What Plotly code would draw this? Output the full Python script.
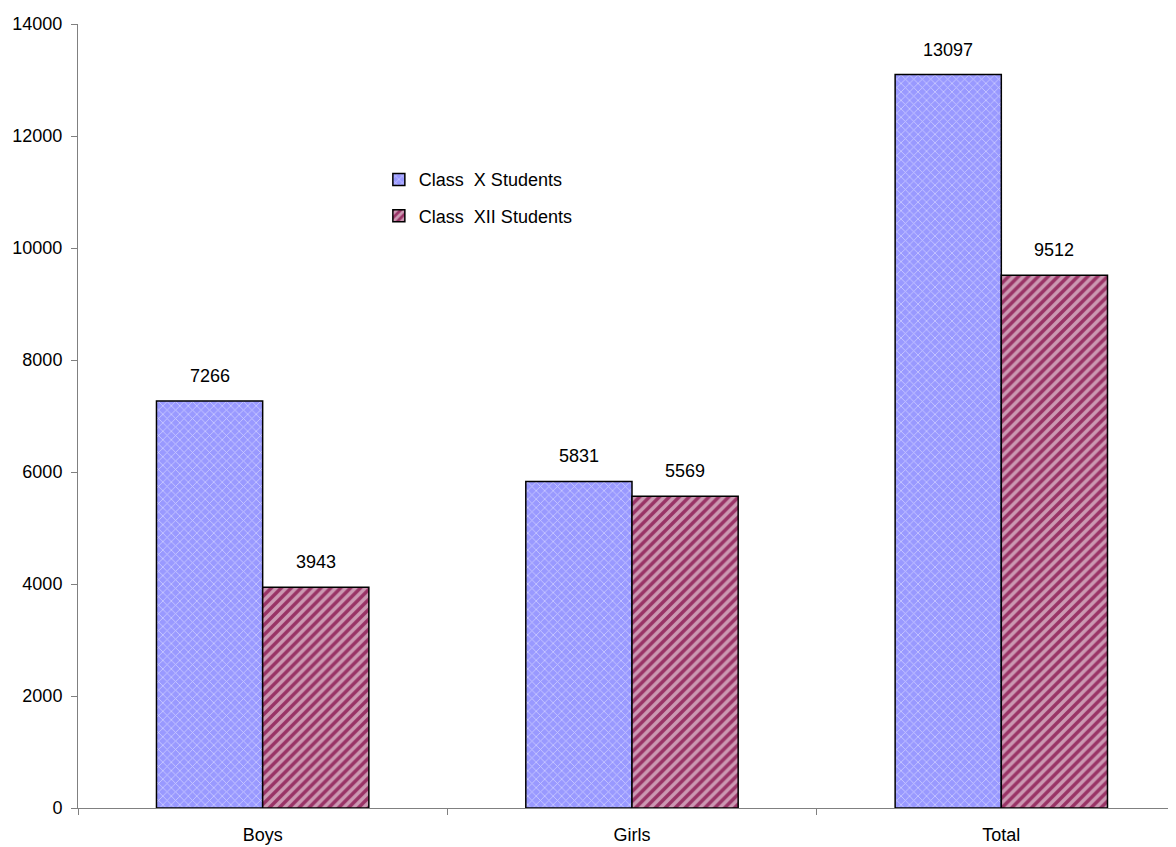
import plotly.graph_objects as go

categories = ["Boys", "Girls", "Total"]
class_x = [7266, 5831, 13097]
class_xii = [3943, 5569, 9512]
series_names = ["Class  X Students", "Class  XII Students"]
y_ticks = [0, 2000, 4000, 6000, 8000, 10000, 12000, 14000]
y_tick_text = [str(v) for v in y_ticks]

font = dict(family="Liberation Sans, Arial, sans-serif", size=18, color="black")
BARGAP = 0.425

fig = go.Figure()
fig.add_trace(go.Bar(
    x=categories, y=class_x, name=series_names[0], legendgroup="a",
    marker=dict(color="#9999FF", line=dict(color="black", width=1.5),
                pattern=dict(shape="x", fgcolor="white", size=6, solidity=0.25)),
))
fig.add_trace(go.Bar(
    x=categories, y=class_xii, name=series_names[1], legendgroup="b",
    marker=dict(color="#993366", line=dict(color="black", width=1.5),
                pattern=dict(shape="/", fgcolor="white", size=7, solidity=0.5)),
))

# value labels above each bar
half = (1 - BARGAP) / 4
for i, cat in enumerate(categories):
    for vals, off in ((class_x, -half), (class_xii, half)):
        fig.add_annotation(x=i + off, y=vals[i], text=str(vals[i]),
                           showarrow=False, yanchor="bottom", yshift=13,
                           font=font)

fig.update_layout(
    width=1168, height=839,
    margin=dict(l=70, r=0, t=16, b=39),
    paper_bgcolor="white", plot_bgcolor="white",
    barmode="group", bargap=BARGAP, bargroupgap=0,
    font=font,
    showlegend=True,
    legend=dict(x=0.274, y=0.825, xanchor="left", yanchor="top",
                bgcolor="rgba(0,0,0,0)", font=font,
                traceorder="grouped", tracegroupgap=10),
)
fig.update_xaxes(
    range=[-0.5, 2.473], showline=True, linecolor="#808080", linewidth=1,
    ticks="outside", tickson="boundaries", ticklen=6, tickcolor="#808080",
    showgrid=False, tickfont=font, ticklabelstandoff=10,
)
fig.update_yaxes(
    range=[0, 14000], tickvals=y_ticks, ticktext=y_tick_text, showline=True,
    linecolor="#808080", linewidth=1, ticks="outside", ticklen=6,
    tickcolor="#808080", showgrid=False, zeroline=False, tickfont=font,
    ticklabelstandoff=5,
)

fig.write_html("out.html")
